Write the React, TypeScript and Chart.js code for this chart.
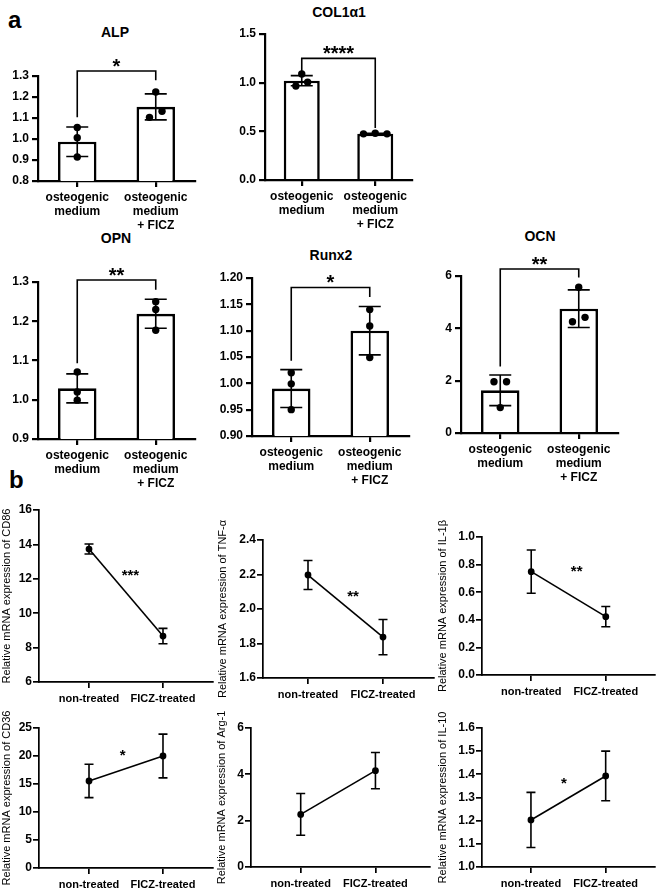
import React, { useEffect, useRef } from 'react';
import { Chart, registerables } from 'chart.js';

Chart.register(...registerables);

const FONT = '"Liberation Sans", Arial, Helvetica, sans-serif';

// ---------------- Panel a : bar charts ----------------
const BAR_CATEGORIES = [['osteogenic', 'medium'], ['osteogenic', 'medium', '+ FICZ']];

const ALP_MEAN = [0.987, 1.153];
const ALP_SD = [0.07, 0.062];
const ALP_DOTS = [[1.055, 1.006, 0.914], [1.224, 1.132, 1.103]];
const ALP_TICKS = ['0.8', '0.9', '1.0', '1.1', '1.2', '1.3'];
const ALP_SIG = [1.324, 1.103, 1.28];
const ALP_STARS = '*';

const COL_MEAN = [1.02, 0.475];
const COL_SD = [0.052, 0.006];
const COL_DOTS = [[1.089, 0.966, 1.004], [0.48, 0.474, 0.474]];
const COL_TICKS = ['0.0', '0.5', '1.0', '1.5'];
const COL_SIG = [1.25, 1.113, 0.534];
const COL_STARS = '****';

const OPN_MEAN = [1.029, 1.219];
const OPN_SD = [0.037, 0.037];
const OPN_DOTS = [[1.071, 1.02, 0.999], [1.25, 1.23, 1.177]];
const OPN_TICKS = ['0.9', '1.0', '1.1', '1.2', '1.3'];
const OPN_SIG = [1.305, 1.093, 1.28];
const OPN_STARS = '**';

const RUNX_MEAN = [0.99, 1.1];
const RUNX_SD = [0.036, 0.046];
const RUNX_DOTS = [[1.02, 0.999, 0.95], [1.14, 1.109, 1.049]];
const RUNX_TICKS = ['0.90', '0.95', '1.00', '1.05', '1.10', '1.15', '1.20'];
const RUNX_SIG = [1.182, 1.043, 1.164];
const RUNX_STARS = '*';

const OCN_MEAN = [1.63, 4.75];
const OCN_SD = [0.585, 0.72];
const OCN_DOTS = [[1.96, 1.96, 0.97], [5.57, 4.25, 4.42]];
const OCN_TICKS = ['0', '2', '4', '6'];
const OCN_SIG = [6.27, 2.54, 5.94];
const OCN_STARS = '**';

// ---------------- Panel b : line charts ----------------
const LINE_CATEGORIES = ['non-treated', 'FICZ-treated'];

const CD86_MEAN = [13.73, 8.67];
const CD86_SD = [0.29, 0.45];
const CD86_TICKS = ['6', '8', '10', '12', '14', '16'];
const CD86_SIG = { x: 0.56, y: 12.45, text: '***' };

const TNF_MEAN = [2.197, 1.837];
const TNF_SD = [0.084, 0.102];
const TNF_TICKS = ['1.6', '1.8', '2.0', '2.2', '2.4'];
const TNF_SIG = { x: 0.6, y: 2.095, text: '**' };

const IL1B_MEAN = [0.749, 0.423];
const IL1B_SD = [0.157, 0.073];
const IL1B_TICKS = ['0.0', '0.2', '0.4', '0.6', '0.8', '1.0'];
const IL1B_SIG = { x: 0.61, y: 0.778, text: '**' };

const CD36_MEAN = [15.54, 20.0];
const CD36_SD = [2.98, 3.9];
const CD36_TICKS = ['0', '5', '10', '15', '20', '25'];
const CD36_SIG = { x: 0.455, y: 20.8, text: '*' };

const ARG1_MEAN = [2.27, 4.16];
const ARG1_SD = [0.9, 0.785];
const ARG1_TICKS = ['0', '2', '4', '6'];
const ARG1_SIG = null;

const IL10_MEAN = [1.203, 1.393];
const IL10_SD = [0.119, 0.107];
const IL10_TICKS = ['1.0', '1.1', '1.2', '1.3', '1.4', '1.5', '1.6'];
const IL10_SIG = { x: 0.44, y: 1.379, text: '*' };

// ---------------- layout (positions / styles) ----------------
type Box = { left: number; top: number; right: number; bottom: number };

const BAR_SPECS = [
  { title: 'ALP', tx: 115, ty: 32, mean: ALP_MEAN, sd: ALP_SD, dots: ALP_DOTS, ticks: ALP_TICKS, sig: ALP_SIG, stars: ALP_STARS,
    jitter: [[0, 0, 0], [0, 0.08, -0.08]], box: { left: 38, top: 76, right: 195, bottom: 181 }, yw: 38, pt: 25 },
  { title: 'COL1\u03b11', tx: 339, ty: 12, mean: COL_MEAN, sd: COL_SD, dots: COL_DOTS, ticks: COL_TICKS, sig: COL_SIG, stars: COL_STARS,
    jitter: [[0, -0.08, 0.08], [0, -0.16, 0.16]], box: { left: 265, top: 34, right: 412, bottom: 180 }, yw: 50, pt: 15 },
  { title: 'OPN', tx: 116, ty: 237.5, mean: OPN_MEAN, sd: OPN_SD, dots: OPN_DOTS, ticks: OPN_TICKS, sig: OPN_SIG, stars: OPN_STARS,
    jitter: [[0, 0, 0], [0, 0, 0]], box: { left: 38, top: 282, right: 195, bottom: 439 }, yw: 38, pt: 25 },
  { title: 'Runx2', tx: 331, ty: 254.5, mean: RUNX_MEAN, sd: RUNX_SD, dots: RUNX_DOTS, ticks: RUNX_TICKS, sig: RUNX_SIG, stars: RUNX_STARS,
    jitter: [[0, 0, 0], [0, 0, 0]], box: { left: 252, top: 278, right: 409, bottom: 436 }, yw: 47, pt: 20 },
  { title: 'OCN', tx: 540, ty: 236, mean: OCN_MEAN, sd: OCN_SD, dots: OCN_DOTS, ticks: OCN_TICKS, sig: OCN_SIG, stars: OCN_STARS,
    jitter: [[-0.08, 0.08, 0], [0, -0.08, 0.08]], box: { left: 461, top: 276, right: 618, bottom: 433 }, yw: 41, pt: 25 },
];

const LINE_SPECS = [
  { ylabel: 'Relative mRNA expression of CD86', mean: CD86_MEAN, sd: CD86_SD, ticks: CD86_TICKS, sig: CD86_SIG,
    box: { left: 39, top: 510, right: 213, bottom: 682 }, yw: 39, xmin: -0.676, xmax: 1.676 },
  { ylabel: 'Relative mRNA expression of TNF-\u03b1', mean: TNF_MEAN, sd: TNF_SD, ticks: TNF_TICKS, sig: TNF_SIG,
    box: { left: 263, top: 540, right: 434, bottom: 678 }, yw: 47, xmin: -0.6, xmax: 1.68 },
  { ylabel: 'Relative mRNA expression of IL-1\u03b2', mean: IL1B_MEAN, sd: IL1B_SD, ticks: IL1B_TICKS, sig: IL1B_SIG,
    box: { left: 482, top: 537, right: 655, bottom: 675 }, yw: 46, xmin: -0.66, xmax: 1.66 },
  { ylabel: 'Relative mRNA expression of CD36', mean: CD36_MEAN, sd: CD36_SD, ticks: CD36_TICKS, sig: CD36_SIG,
    box: { left: 39, top: 728, right: 213, bottom: 868 }, yw: 39, xmin: -0.676, xmax: 1.676 },
  { ylabel: 'Relative mRNA expression of Arg-1', mean: ARG1_MEAN, sd: ARG1_SD, ticks: ARG1_TICKS, sig: ARG1_SIG,
    box: { left: 251, top: 728, right: 430, bottom: 867 }, yw: 36, xmin: -0.665, xmax: 1.73 },
  { ylabel: 'Relative mRNA expression of IL-10', mean: IL10_MEAN, sd: IL10_SD, ticks: IL10_TICKS, sig: IL10_SIG,
    box: { left: 482, top: 728, right: 655, bottom: 867 }, yw: 46, xmin: -0.655, xmax: 1.66 },
];

const BAR_PR = 8;
const BAR_XH = 52;
const LINE_PT = 25;
const LINE_PR = 6;
const LINE_XH = 26;

function axisStyle(w: number, tl: number) {
  return {
    offset: false,
    grid: { display: true, offset: false, drawOnChartArea: false, drawTicks: true, tickLength: tl, color: '#000', lineWidth: w },
    border: { display: true, color: '#000', width: w },
  };
}

function yScale(ticks: string[], yw: number, pad: number, w: number, title?: string) {
  const vals = ticks.map(Number);
  return {
    type: 'linear',
    min: vals[0],
    max: vals[vals.length - 1],
    afterBuildTicks: (ax: any) => { ax.ticks = vals.map((value) => ({ value })); },
    afterFit: (ax: any) => { ax.width = yw; },
    ticks: {
      callback: (_v: any, i: number) => ticks[i],
      color: '#000',
      font: { family: FONT, size: 12, weight: 'bold' },
      padding: pad,
      autoSkip: false,
    },
    title: title
      ? { display: true, text: title, color: '#000', font: { family: FONT, size: 11, weight: 'normal' }, padding: { top: 0, bottom: 0 } }
      : { display: false },
    ...axisStyle(w, 6),
  };
}

function barOverlay(s: any) {
  return {
    id: 'barOverlay',
    afterDatasetsDraw(chart: any) {
      const { ctx } = chart;
      const x = chart.scales.x;
      const y = chart.scales.y;
      ctx.save();
      ctx.strokeStyle = '#000';
      ctx.lineWidth = 1.6;
      s.mean.forEach((m: number, i: number) => {
        const px = x.getPixelForValue(i);
        const yt = y.getPixelForValue(m + s.sd[i]);
        const yb = y.getPixelForValue(m - s.sd[i]);
        const c = 11;
        ctx.beginPath();
        ctx.moveTo(px, yt); ctx.lineTo(px, yb);
        ctx.moveTo(px - c, yt); ctx.lineTo(px + c, yt);
        ctx.moveTo(px - c, yb); ctx.lineTo(px + c, yb);
        ctx.stroke();
      });
      const [lvl, lf, rf] = s.sig;
      const x0 = x.getPixelForValue(0);
      const x1 = x.getPixelForValue(1);
      const yl = y.getPixelForValue(lvl);
      ctx.beginPath();
      ctx.moveTo(x0, y.getPixelForValue(lf));
      ctx.lineTo(x0, yl);
      ctx.lineTo(x1, yl);
      ctx.lineTo(x1, y.getPixelForValue(rf));
      ctx.stroke();
      ctx.fillStyle = '#000';
      ctx.font = `bold 20px ${FONT}`;
      ctx.textAlign = 'center';
      ctx.textBaseline = 'alphabetic';
      ctx.fillText(s.stars, (x0 + x1) / 2, yl - 10 + 0.58 * 20);
      ctx.restore();
    },
  };
}

function lineOverlay(s: any) {
  return {
    id: 'lineOverlay',
    afterDatasetsDraw(chart: any) {
      const { ctx } = chart;
      const x = chart.scales.x;
      const y = chart.scales.y;
      ctx.save();
      ctx.strokeStyle = '#000';
      ctx.lineWidth = 1.6;
      s.mean.forEach((m: number, i: number) => {
        const px = x.getPixelForValue(i);
        const yt = y.getPixelForValue(m + s.sd[i]);
        const yb = y.getPixelForValue(m - s.sd[i]);
        const c = 4.5;
        ctx.beginPath();
        ctx.moveTo(px, yt); ctx.lineTo(px, yb);
        ctx.moveTo(px - c, yt); ctx.lineTo(px + c, yt);
        ctx.moveTo(px - c, yb); ctx.lineTo(px + c, yb);
        ctx.stroke();
      });
      if (s.sig) {
        ctx.fillStyle = '#000';
        ctx.font = `bold 15px ${FONT}`;
        ctx.textAlign = 'center';
        ctx.textBaseline = 'alphabetic';
        ctx.fillText(s.sig.text, x.getPixelForValue(s.sig.x), y.getPixelForValue(s.sig.y) + 0.58 * 15);
      }
      ctx.restore();
    },
  };
}

function barConfig(s: any): any {
  return {
    type: 'bar',
    data: {
      datasets: [
        {
          type: 'bar',
          data: s.mean.map((v: number, i: number) => ({ x: i, y: v })),
          backgroundColor: '#fff',
          borderColor: '#000',
          borderWidth: 2.6,
          barPercentage: 0.49,
          categoryPercentage: 1,
          order: 2,
        },
        {
          type: 'scatter',
          data: s.dots.flatMap((g: number[], i: number) => g.map((v, k) => ({ x: i + s.jitter[i][k], y: v }))),
          pointRadius: 3.7,
          pointBackgroundColor: '#000',
          pointBorderWidth: 0,
          order: 0,
        },
      ],
    },
    options: {
      animation: false,
      responsive: false,
      maintainAspectRatio: false,
      events: [],
      layout: { padding: { top: s.pt, right: BAR_PR, left: 0, bottom: 0 } },
      plugins: { legend: { display: false }, tooltip: { enabled: false }, title: { display: false } },
      scales: {
        x: {
          type: 'linear',
          min: -0.5,
          max: 1.5,
          afterBuildTicks: (ax: any) => { ax.ticks = BAR_CATEGORIES.map((_c, i) => ({ value: i })); },
          afterFit: (ax: any) => { ax.height = BAR_XH; },
          ticks: {
            callback: (_v: any, i: number) => BAR_CATEGORIES[i],
            color: '#000',
            font: { family: FONT, size: 12, weight: 'bold', lineHeight: 1.15 },
            padding: 4,
            maxRotation: 0,
            autoSkip: false,
          },
          ...axisStyle(2.2, 6),
        },
        y: yScale(s.ticks, s.yw, 3, 2.2),
      },
    },
    plugins: [barOverlay(s)],
  };
}

function lineConfig(s: any): any {
  return {
    type: 'line',
    data: {
      datasets: [
        {
          data: s.mean.map((v: number, i: number) => ({ x: i, y: v })),
          borderColor: '#000',
          borderWidth: 1.6,
          pointRadius: 3.4,
          pointBackgroundColor: '#000',
          pointBorderWidth: 0,
          fill: false,
          tension: 0,
        },
      ],
    },
    options: {
      animation: false,
      responsive: false,
      maintainAspectRatio: false,
      events: [],
      layout: { padding: { top: LINE_PT, right: LINE_PR, left: 0, bottom: 0 } },
      plugins: { legend: { display: false }, tooltip: { enabled: false }, title: { display: false } },
      scales: {
        x: {
          type: 'linear',
          min: s.xmin,
          max: s.xmax,
          afterBuildTicks: (ax: any) => { ax.ticks = LINE_CATEGORIES.map((_c, i) => ({ value: i })); },
          afterFit: (ax: any) => { ax.height = LINE_XH; },
          ticks: {
            callback: (_v: any, i: number) => LINE_CATEGORIES[i],
            color: '#000',
            font: { family: FONT, size: 11, weight: 'bold' },
            padding: 4,
            maxRotation: 0,
            autoSkip: false,
          },
          ...axisStyle(1.7, 6),
        },
        y: yScale(s.ticks, s.yw, 1, 1.7, s.ylabel),
      },
    },
    plugins: [lineOverlay(s)],
  };
}

function ChartBox({ box, yw, pt, pr, xh, config }: { box: Box; yw: number; pt: number; pr: number; xh: number; config: () => any }) {
  const ref = useRef<HTMLCanvasElement | null>(null);
  const w = box.right - box.left + yw + pr;
  const h = box.bottom - box.top + pt + xh;
  useEffect(() => {
    if (!ref.current) return;
    const chart = new Chart(ref.current, config());
    return () => chart.destroy();
  }, []);
  return (
    <div style={{ position: 'absolute', left: box.left - yw, top: box.top - pt, width: w, height: h }}>
      <canvas ref={ref} width={w} height={h} style={{ width: w, height: h, display: 'block' }} />
    </div>
  );
}

export default function App() {
  return (
    <div style={{ position: 'absolute', left: 0, top: 0, width: 661, height: 891, background: '#fff', overflow: 'hidden', fontFamily: FONT }}>
      <div style={{ position: 'absolute', left: 8, top: 8, fontSize: 24, fontWeight: 'bold', lineHeight: 1 }}>a</div>
      <div style={{ position: 'absolute', left: 9, top: 468, fontSize: 24, fontWeight: 'bold', lineHeight: 1 }}>b</div>
      {BAR_SPECS.map((s) => (
        <div key={s.title} style={{ position: 'absolute', left: s.tx, top: s.ty, transform: 'translate(-50%, -50%)', fontSize: 14, fontWeight: 'bold', lineHeight: 1, whiteSpace: 'nowrap' }}>
          {s.title}
        </div>
      ))}
      {BAR_SPECS.map((s) => (
        <ChartBox key={'c' + s.title} box={s.box} yw={s.yw} pt={s.pt} pr={BAR_PR} xh={BAR_XH} config={() => barConfig(s)} />
      ))}
      {LINE_SPECS.map((s) => (
        <ChartBox key={s.ylabel} box={s.box} yw={s.yw} pt={LINE_PT} pr={LINE_PR} xh={LINE_XH} config={() => lineConfig(s)} />
      ))}
    </div>
  );
}
